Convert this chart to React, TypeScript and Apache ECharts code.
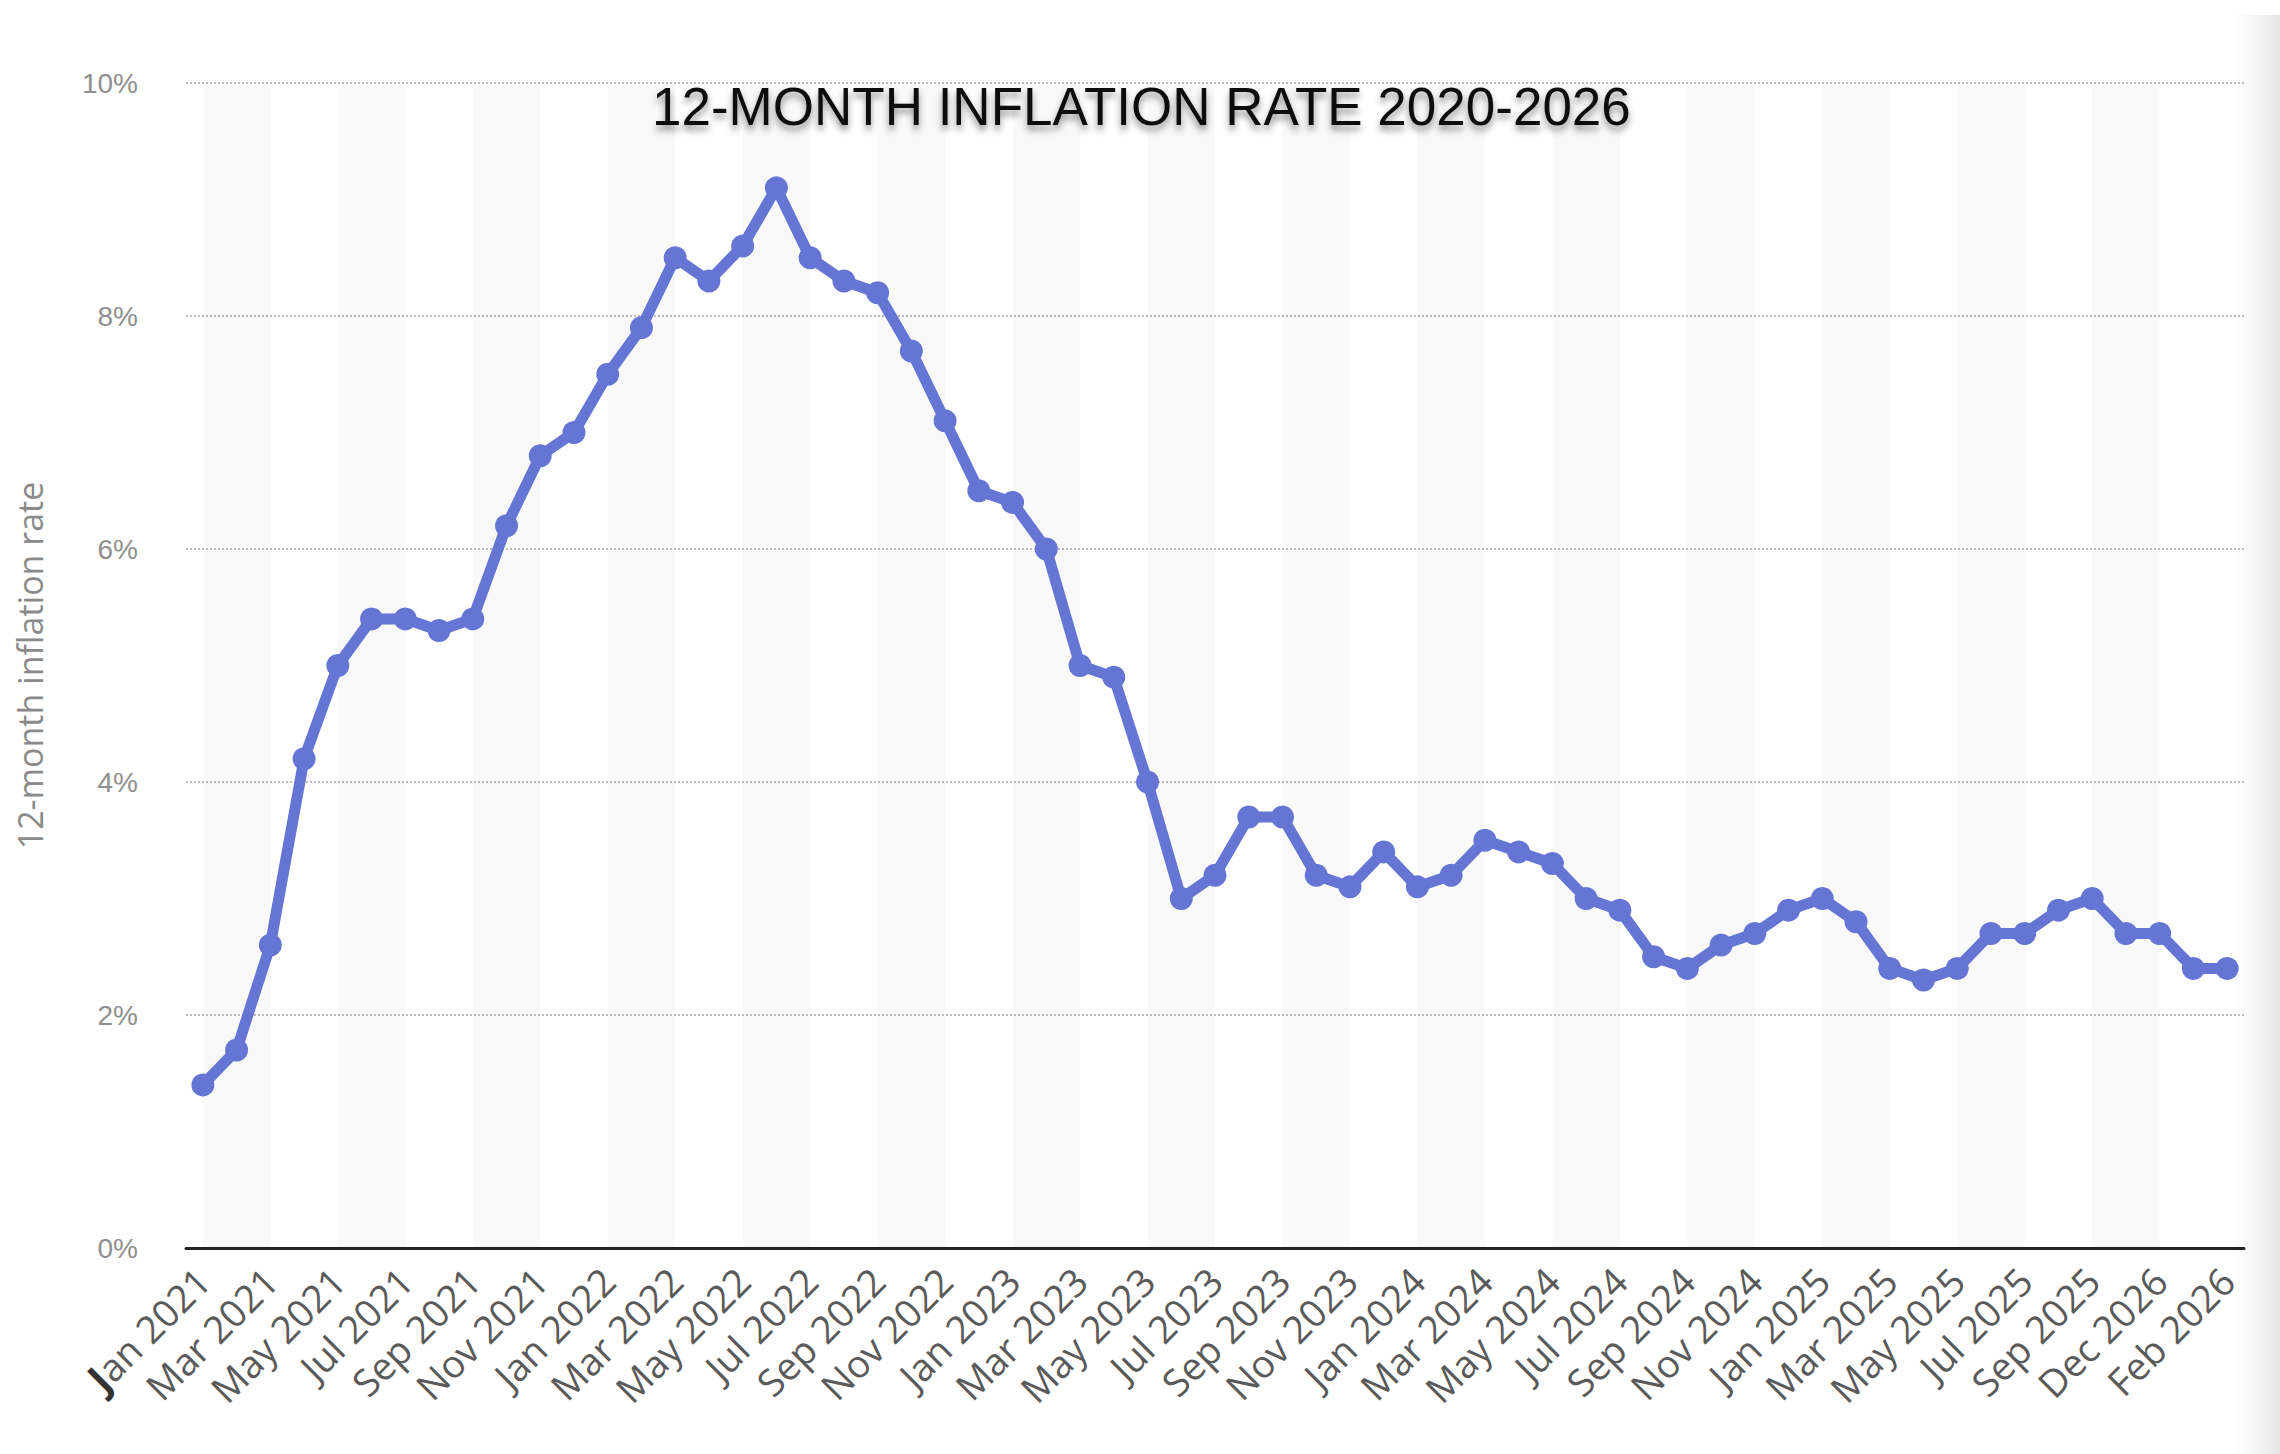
import React, { useEffect, useRef } from "react";
import * as echarts from "echarts";

const categories: string[] = [
  "Jan 2021", "Feb 2021", "Mar 2021", "Apr 2021", "May 2021", "Jun 2021",
  "Jul 2021", "Aug 2021", "Sep 2021", "Oct 2021", "Nov 2021", "Dec 2021",
  "Jan 2022", "Feb 2022", "Mar 2022", "Apr 2022", "May 2022", "Jun 2022",
  "Jul 2022", "Aug 2022", "Sep 2022", "Oct 2022", "Nov 2022", "Dec 2022",
  "Jan 2023", "Feb 2023", "Mar 2023", "Apr 2023", "May 2023", "Jun 2023",
  "Jul 2023", "Aug 2023", "Sep 2023", "Oct 2023", "Nov 2023", "Dec 2023",
  "Jan 2024", "Feb 2024", "Mar 2024", "Apr 2024", "May 2024", "Jun 2024",
  "Jul 2024", "Aug 2024", "Sep 2024", "Oct 2024", "Nov 2024", "Dec 2024",
  "Jan 2025", "Feb 2025", "Mar 2025", "Apr 2025", "May 2025", "Jun 2025",
  "Jul 2025", "Aug 2025", "Sep 2025", "Oct 2025", "Dec 2026", "Jan 2026",
  "Feb 2026",
];

const inflationRate: number[] = [
  1.4, 1.7, 2.6, 4.2, 5.0, 5.4, 5.4, 5.3, 5.4, 6.2,
  6.8, 7.0, 7.5, 7.9, 8.5, 8.3, 8.6, 9.1, 8.5, 8.3,
  8.2, 7.7, 7.1, 6.5, 6.4, 6.0, 5.0, 4.9, 4.0, 3.0,
  3.2, 3.7, 3.7, 3.2, 3.1, 3.4, 3.1, 3.2, 3.5, 3.4,
  3.3, 3.0, 2.9, 2.5, 2.4, 2.6, 2.7, 2.9, 3.0, 2.8,
  2.4, 2.3, 2.4, 2.7, 2.7, 2.9, 3.0, 2.7, 2.7, 2.4,
  2.4,
];

const yTicks: number[] = [0, 2, 4, 6, 8, 10];

const titleText = "12-MONTH INFLATION RATE 2020-2026";
const yAxisName = "12-month inflation rate";

export default function App() {
  const ref = useRef<HTMLDivElement>(null);

  useEffect(() => {
    if (!ref.current) return;
    const chart = echarts.init(ref.current, undefined, { renderer: "svg" });
    chart.setOption({
      animation: false,
      backgroundColor: "#ffffff",
      title: {
        text: titleText,
        left: 652,
        top: 80,
        padding: 0,
        textStyle: {
          fontFamily: "Liberation Sans, Arial, sans-serif",
          fontSize: 53,
          fontWeight: "normal",
          color: "#111111",
          textShadowColor: "rgba(0,0,0,0.45)",
          textShadowBlur: 7,
          textShadowOffsetY: 5,
        },
      },
      grid: { left: 186, right: 36, top: 83, bottom: 206, containLabel: false },
      graphic: [
        {
          type: "rect",
          left: 2232,
          top: 15,
          shape: { width: 48, height: 1439 },
          z: -1,
          style: {
            fill: new echarts.graphic.LinearGradient(0, 0, 1, 0, [
              { offset: 0, color: "rgba(240,240,240,0)" },
              { offset: 1, color: "rgba(228,228,228,1)" },
            ]),
          },
        },
      ],
      xAxis: {
        type: "category",
        data: categories,
        boundaryGap: true,
        axisLine: { show: true, lineStyle: { color: "#222222", width: 3 } },
        axisTick: { show: false, alignWithLabel: true },
        axisLabel: {
          interval: 1,
          rotate: 45,
          margin: 26,
          fontFamily: "Open Sans, sans-serif",
          fontSize: 38,
          color: "#5a5a5a",
          formatter: (v: string, i: number) =>
            i === 0 ? "{j|J}" + v.slice(1) : v,
          rich: {
            j: {
              fontFamily: "Open Sans, sans-serif",
              fontSize: 40,
              fontWeight: "bold",
              color: "#333333",
            },
          },
        },
        splitLine: { show: false },
        splitArea: {
          show: true,
          interval: 1,
          alignWithLabel: true,
          areaStyle: { color: ["rgba(0,0,0,0.022)", "rgba(255,255,255,0)"] },
        },
      },
      yAxis: {
        type: "value",
        min: yTicks[0],
        max: yTicks[yTicks.length - 1],
        interval: 2,
        name: yAxisName,
        nameLocation: "middle",
        nameRotate: 90,
        nameGap: 139,
        nameTextStyle: {
          fontFamily: "Open Sans, sans-serif",
          fontSize: 34,
          color: "#8a8a8a",
        },
        axisLine: { show: false },
        axisTick: { show: false },
        axisLabel: {
          formatter: "{value}%",
          margin: 48,
          fontFamily: "Liberation Sans, Arial, sans-serif",
          fontSize: 28,
          color: "#8f8f8f",
        },
        splitLine: {
          show: true,
          lineStyle: { color: "#bdbdbd", width: 2, type: [2, 2] },
        },
      },
      series: [
        {
          type: "line",
          data: inflationRate,
          symbol: "circle",
          symbolSize: 23,
          showSymbol: true,
          showAllSymbol: true,
          lineStyle: { color: "#6475d4", width: 11 },
          itemStyle: { color: "#6475d4" },
          z: 5,
        },
      ],
    });
    return () => chart.dispose();
  }, []);

  return (
    <div
      ref={ref}
      style={{ position: "fixed", left: 0, top: 0, width: 2280, height: 1454 }}
    />
  );
}
